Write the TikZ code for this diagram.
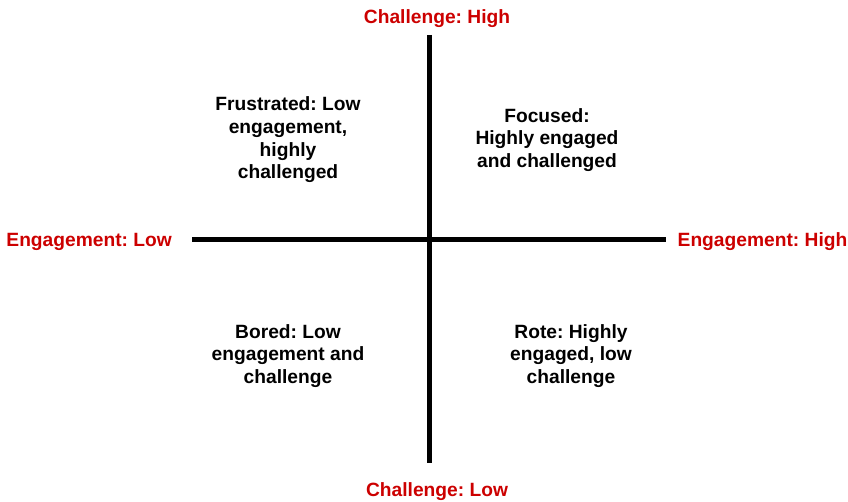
\documentclass[tikz,border=0pt]{standalone}
\usepackage{fontspec}
\setmainfont{Liberation Sans}
\usetikzlibrary{positioning}
\frenchspacing
\definecolor{axisred}{HTML}{CC0000}
\tikzset{
  axisline/.style={line width=5pt, draw=black},
  axislabel/.style={text=axisred, font=\fontsize{19.2}{22.7}\selectfont\bfseries, inner sep=0pt},
  quadrant/.style={align=center, font=\fontsize{19.2}{22.7}\selectfont\bfseries, inner sep=0pt}
}

\begin{document}
\begin{tikzpicture}[x=1pt, y=-1pt, node distance=8pt]
    \useasboundingbox (0,0) rectangle (848,502);

    \coordinate (top) at (429,35);
    \coordinate (bottom) at (429,463);
    \coordinate (left) at (192,240);
    \coordinate (right) at (666,240);

    \draw[axisline] (top) -- (bottom);
    \draw[axisline] (left) -- (right);

    \node[axislabel] (chigh) at (437,19) {Challenge: High};
    \node[axislabel] (clow) at (437,492) {Challenge: Low};
    \node[axislabel, left=20pt of left, yshift=-1.5pt] (elow) {Engagement: Low};
    \node[axislabel, right=11.5pt of right, yshift=-1.5pt] (ehigh) {Engagement: High};

    \node[quadrant] (frustrated) at (288,140) {Frustrated: Low\\engagement,\\highly\\challenged};
    \node[quadrant] (focused) at (547,140) {Focused:\\Highly engaged\\and challenged};
    \node[quadrant] (bored) at (288,356) {Bored: Low\\engagement and\\challenge};
    \node[quadrant] (rote) at (571,356) {Rote: Highly\\engaged, low\\challenge};
\end{tikzpicture}
\end{document}
